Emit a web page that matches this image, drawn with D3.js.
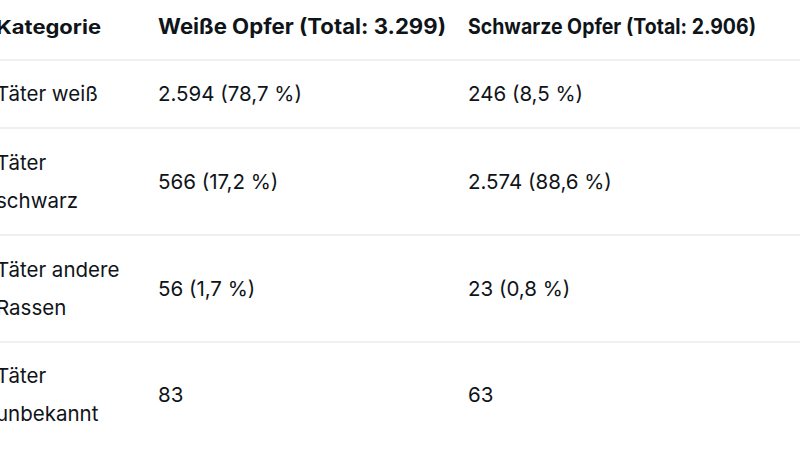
<!DOCTYPE html>
<html><head><meta charset="utf-8">
<script src="https://cdn.jsdelivr.net/npm/d3@7"></script>
<style>body{margin:0;background:#fff}svg{display:block}</style>
</head><body>
<script>
const headers = ["Kategorie", "Weiße Opfer (Total: 3.299)", "Schwarze Opfer (Total: 2.906)"];
const categories = [["Täter weiß"], ["Täter", "schwarz"], ["Täter andere", "Rassen"], ["Täter", "unbekannt"]];
const whiteVictims = ["2.594 (78,7 %)", "566 (17,2 %)", "56 (1,7 %)", "83"];
const blackVictims = ["246 (8,5 %)", "2.574 (88,6 %)", "23 (0,8 %)", "63"];

const W = 800, H = 450;
const svg = d3.select("body").append("svg").attr("width", W).attr("height", H);
const font = "Inter, 'Noto Sans', sans-serif";
const colX = [-4, 158, 468];
const rowBounds = [60, 128, 235, 342, 450];
const lineH = 38;

svg.selectAll("text.h").data(headers).join("text")
  .attr("x", (d, i) => colX[i]).attr("y", 34)
  .attr("font-family", font).attr("font-size", (d, i) => i === 0 ? 19 : 21).attr("font-weight", 700)
  .attr("fill", "#0f1419").attr("textLength", (d, i) => i === 0 ? 105 : 288)
  .attr("lengthAdjust", "spacingAndGlyphs").text(d => d);

svg.selectAll("line").data(rowBounds.slice(0, 4)).join("line")
  .attr("x1", 0).attr("x2", W).attr("y1", d => d).attr("y2", d => d)
  .attr("stroke", "#dde1e4").attr("stroke-width", 1);

categories.forEach((cat, r) => {
  const top = rowBounds[r], bot = rowBounds[r + 1];
  const cy = r === 3 ? 395 : (top + bot) / 2;
  const n = cat.length;
  cat.forEach((t, k) => {
    svg.append("text").attr("x", colX[0]).attr("y", cy + (k - (n - 1) / 2) * lineH + 7)
      .attr("font-family", font).attr("font-size", 20.5).attr("fill", "#0f1419").text(t);
  });
  [whiteVictims[r], blackVictims[r]].forEach((t, c) => {
    svg.append("text").attr("x", colX[c + 1]).attr("y", cy + 7)
      .attr("font-family", font).attr("font-size", 20.5).attr("fill", "#0f1419").text(t);
  });
});
</script>
</body></html>
